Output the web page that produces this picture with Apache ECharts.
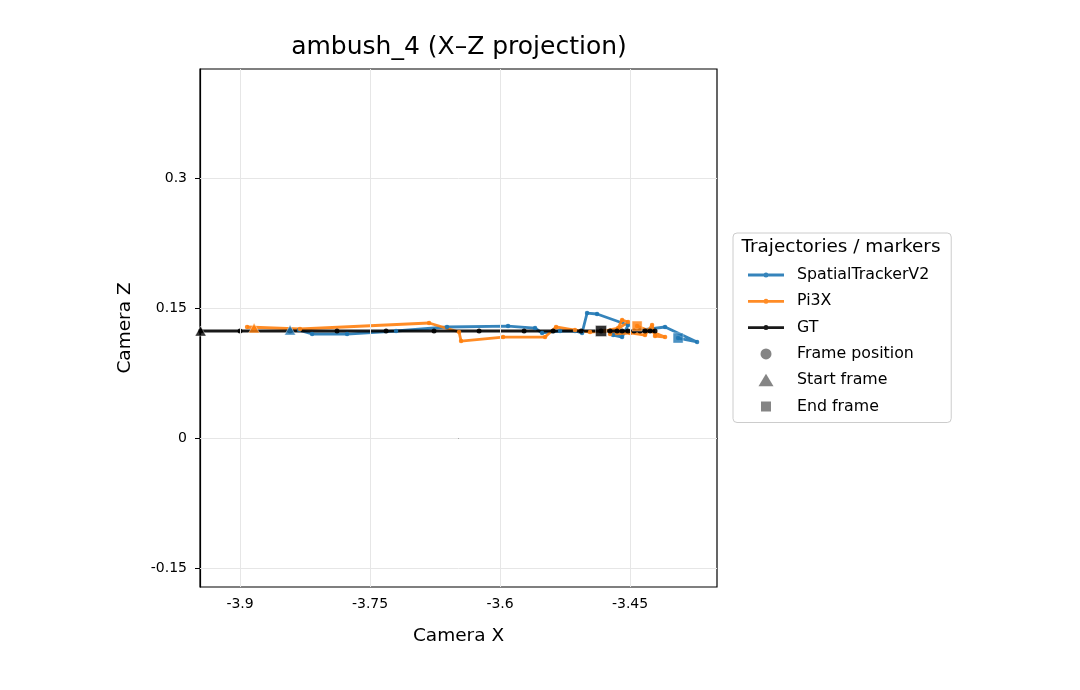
<!DOCTYPE html>
<html>
<head>
<meta charset="utf-8">
<title>ambush_4 (X–Z projection)</title>
<script src="https://cdn.jsdelivr.net/npm/echarts@6/dist/echarts.min.js"></script>
<style>
  html, body { margin: 0; padding: 0; background: #fff; }
  #chart { width: 1080px; height: 690px; }
</style>
</head>
<body>
<div id="chart"></div>
<script>
// 轴刻度
var xTicks = [-3.9, -3.75, -3.6, -3.45];
var zTicks = [-0.15, 0, 0.15, 0.3];

// GT 轨迹 (X, Z)
var gtX = [-3.9455, -3.9, -3.8423, -3.7881, -3.7315, -3.6762, -3.6242, -3.5723, -3.5388, -3.5065,
           -3.4731, -3.4592, -3.4454, -3.4327, -3.4212, -3.4269, -3.4385, -3.4523, -3.465, -3.4835];
var gtZ = [0.1235, 0.1235, 0.1235, 0.1235, 0.1235, 0.1235, 0.1235, 0.1235, 0.1235, 0.1235,
           0.1235, 0.1235, 0.1235, 0.1235, 0.1235, 0.1235, 0.1235, 0.1235, 0.1235, 0.1235];

// SpatialTrackerV2
var stX = [-3.8423, -3.8319, -3.8169, -3.7765, -3.7200, -3.6612, -3.5908, -3.5596, -3.5515, -3.5308,
           -3.5135, -3.5054, -3.4996, -3.4881, -3.4523, -3.4592, -3.4696, -3.4385, -3.4096, -3.3727, -3.3946];
var stZ = [0.1246, 0.1246, 0.1200, 0.1200, 0.1235, 0.1281, 0.1292, 0.1269, 0.1212, 0.1235,
           0.1235, 0.1212, 0.1442, 0.1431, 0.1304, 0.1165, 0.1188, 0.1246, 0.1281, 0.1108, 0.1154];

// Pi3X
var piX = [-3.8838, -3.8919, -3.8308, -3.6819, -3.6473, -3.6450, -3.5965, -3.5481, -3.5354, -3.5135,
           -3.4962, -3.4788, -3.4638, -3.4592, -3.4523, -3.4731, -3.4500, -3.4327, -3.4246, -3.4212, -3.4096, -3.4419];
var piZ = [0.1269, 0.1281, 0.1258, 0.1327, 0.1223, 0.1119, 0.1165, 0.1165, 0.1281, 0.1246,
           0.1223, 0.1235, 0.1269, 0.1362, 0.1338, 0.1200, 0.1212, 0.1188, 0.1304, 0.1177, 0.1165, 0.1292];

var FONT = 'DejaVu Sans';
var BLUE = '#1f77b4', ORANGE = '#ff7f0e', BLACK = '#000000', GRAY = '#666666';

function pairs(xs, zs) {
  return xs.map(function (x, i) { return [x, zs[i]]; });
}
function first(xs, zs) { return [[xs[0], zs[0]]]; }
function last(xs, zs) { return [[xs[xs.length - 1], zs[zs.length - 1]]]; }
function fmt(v) { return String(parseFloat(v.toFixed(4))); }

// 图例图标 (44x14 的框)
var BOX = 'M0,0 M44,14 ';
var lineIcon = 'path://' + BOX + 'M0,5.6 L36,5.6 L36,8.4 L0,8.4 Z M20.5,7 A2.5,2.5 0 1 1 15.5,7 A2.5,2.5 0 1 1 20.5,7 Z';
var dotIcon = 'path://' + BOX + 'M23.5,7 A5.5,5.5 0 1 1 12.5,7 A5.5,5.5 0 1 1 23.5,7 Z';
var triIcon = 'path://' + BOX + 'M18,0.5 L25.5,13 L10.5,13 Z';
var sqIcon = 'path://' + BOX + 'M13,2 L23,2 L23,12 L13,12 Z';

function trajLine(name, xs, zs, color, dot) {
  return {
    name: name, type: 'line', data: pairs(xs, zs),
    symbol: 'circle', symbolSize: dot, showSymbol: true, showAllSymbol: true,
    lineStyle: { color: color, width: 2.8, opacity: 0.9 },
    itemStyle: { color: color, opacity: 0.9 },
    z: 3, animation: false, silent: true
  };
}
function marker(name, data, symbol, size, color) {
  return {
    name: name, type: 'scatter', data: data, symbol: symbol, symbolSize: size,
    itemStyle: { color: color, borderColor: '#fff', borderWidth: 0.5 },
    z: 5, animation: false, silent: true
  };
}

var myChart = echarts.init(document.getElementById('chart'));

var option = {
  backgroundColor: '#fff',
  animation: false,
  textStyle: { fontFamily: FONT },
  grid: {
    left: 200, top: 69, width: 517, height: 518,
    show: true, borderColor: '#000', borderWidth: 1.2, backgroundColor: 'transparent'
  },
  xAxis: {
    type: 'value', min: -3.9462, max: -3.3497,
    name: 'Camera X', nameLocation: 'middle', nameGap: 40,
    nameTextStyle: { fontSize: 18.5, color: '#000', fontFamily: FONT },
    axisLine: { show: true, lineStyle: { color: '#000', width: 1.2 } },
    axisTick: { show: true, inside: false, length: 5, customValues: xTicks, lineStyle: { color: '#000' } },
    axisLabel: { customValues: xTicks, formatter: fmt, fontSize: 14, color: '#000', margin: 10, fontFamily: FONT },
    splitLine: { show: false }
  },
  yAxis: {
    type: 'value', min: -0.1719, max: 0.4258,
    name: 'Camera Z', nameLocation: 'middle', nameGap: 65,
    nameTextStyle: { fontSize: 18.5, color: '#000', fontFamily: FONT },
    axisLine: { show: true, lineStyle: { color: '#000', width: 1.2 } },
    axisTick: { show: true, inside: false, length: 5, customValues: zTicks, lineStyle: { color: '#000' } },
    axisLabel: { customValues: zTicks, formatter: fmt, fontSize: 14, color: '#000', margin: 13, fontFamily: FONT },
    splitLine: { show: false }
  },
  legend: {
    orient: 'vertical', left: 733, top: 233,
    padding: [34, 22, 8, 15],
    itemWidth: 44, itemHeight: 14, itemGap: 10.3,
    backgroundColor: 'rgba(255,255,255,0.85)', borderColor: '#cccccc', borderWidth: 1, borderRadius: 4,
    selectedMode: false,
    textStyle: { fontSize: 15.8, lineHeight: 16, color: '#000', fontFamily: FONT },
    data: [
      { name: 'SpatialTrackerV2', icon: lineIcon },
      { name: 'Pi3X', icon: lineIcon },
      { name: 'GT', icon: lineIcon },
      { name: 'Frame position', icon: dotIcon },
      { name: 'Start frame', icon: triIcon },
      { name: 'End frame', icon: sqIcon }
    ]
  },
  graphic: [
    {
      type: 'text', x: 459, y: 47, z: 100,
      style: { text: 'ambush_4 (X–Z projection)', fontSize: 25, fontFamily: FONT, fill: '#000', align: 'center', verticalAlign: 'middle' }
    },
    {
      type: 'text', x: 841, y: 247, z: 100,
      style: { text: 'Trajectories / markers', fontSize: 18.4, fontFamily: FONT, fill: '#000', align: 'center', verticalAlign: 'middle' }
    }
  ],
  series: [
    {
      // 网格线
      name: 'grid', type: 'scatter', data: [], z: 1, silent: true,
      markLine: {
        silent: true, symbol: 'none', label: { show: false },
        lineStyle: { color: '#e6e6e6', width: 1, type: 'solid' },
        data: xTicks.map(function (v) { return { xAxis: v }; })
          .concat(zTicks.map(function (v) { return { yAxis: v }; }))
      }
    },
    trajLine('SpatialTrackerV2', stX, stZ, BLUE, 4.5),
    trajLine('Pi3X', piX, piZ, ORANGE, 4.5),
    trajLine('GT', gtX, gtZ, BLACK, 5),
    marker('st-start', first(stX, stZ), 'triangle', [11, 10], BLUE),
    marker('pi-start', first(piX, piZ), 'triangle', [11, 10], ORANGE),
    marker('gt-start', first(gtX, gtZ), 'triangle', [11, 10], BLACK),
    marker('st-end', last(stX, stZ), 'rect', 10, BLUE),
    marker('pi-end', last(piX, piZ), 'rect', 10, ORANGE),
    marker('gt-end', last(gtX, gtZ), 'rect', 11, BLACK),
    { name: 'Frame position', type: 'scatter', data: [], itemStyle: { color: GRAY } },
    { name: 'Start frame', type: 'scatter', data: [], itemStyle: { color: GRAY } },
    { name: 'End frame', type: 'scatter', data: [], itemStyle: { color: GRAY } }
  ]
};

myChart.setOption(option);
</script>
</body>
</html>
